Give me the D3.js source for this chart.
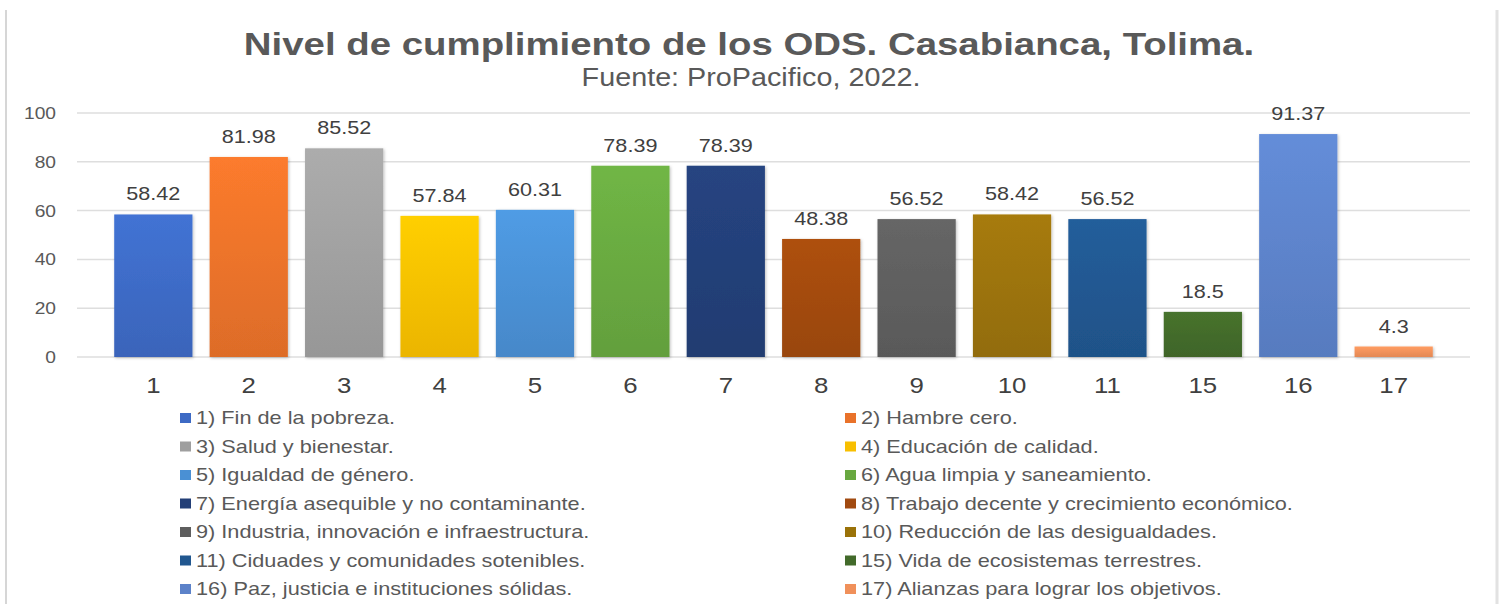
<!DOCTYPE html>
<html>
<head>
<meta charset="utf-8">
<script src="https://cdn.jsdelivr.net/npm/d3@7"></script>
<style>
  body { margin: 0; background: #fff; }
  svg { display: block; font-family: "Liberation Sans", Arial, sans-serif; }
</style>
</head>
<body>
<svg id="chart"></svg>
<script>
const width = 1501;
const height = 604;

const categories = ['1', '2', '3', '4', '5', '6', '7', '8', '9', '10', '11', '15', '16', '17'];
const values = [58.42, 81.98, 85.52, 57.84, 60.31, 78.39, 78.39, 48.38, 56.52, 58.42, 56.52, 18.5, 91.37, 4.3];
const barColors = ['#3d6ac4', '#e9722a', '#9f9f9f', '#f8bf00', '#4a90d4', '#68a840', '#233f77', '#a14a10',
                   '#5e5e5e', '#9a7208', '#21578f', '#426a2a', '#5c82c9', '#f0905a'];
const legendLabels = [
  '1) Fin de la pobreza.', '2) Hambre cero.',
  '3) Salud y bienestar.', '4) Educación de calidad.',
  '5) Igualdad de género.', '6) Agua limpia y saneamiento.',
  '7) Energía asequible y no contaminante.', '8) Trabajo decente y crecimiento económico.',
  '9) Industria, innovación e infraestructura.', '10) Reducción de las desigualdades.',
  '11) Ciduades y comunidades sotenibles.', '15) Vida de ecosistemas terrestres.',
  '16) Paz, justicia e instituciones sólidas.', '17) Alianzas para lograr los objetivos.'
];
const yTicks = [0, 20, 40, 60, 80, 100];

const stretch = 1.2; // picture text looks horizontally widened

const svg = d3.select('#chart').attr('width', width).attr('height', height);

const x = d3.scaleBand().domain(categories).range([77, 1470]).paddingInner(0.18).paddingOuter(0.39);
const y = d3.scaleLinear().domain([0, 100]).range([357, 113]);

function addText(g, tx, ty, str, sx) {
  return g.append('text')
    .attr('transform', `translate(${tx},${ty}) scale(${sx || stretch},1)`)
    .text(str);
}

// frame lines
svg.append('line').attr('x1', 6).attr('x2', 6).attr('y1', 10).attr('y2', height)
  .attr('stroke', '#d6d6d6').attr('stroke-width', 2);
svg.append('line').attr('x1', 1497).attr('x2', 1497).attr('y1', 10).attr('y2', height)
  .attr('stroke', '#e2e2e2').attr('stroke-width', 3);

// gradients + shadow
const defs = svg.append('defs');
barColors.forEach((c, i) => {
  const gr = defs.append('linearGradient').attr('id', 'g' + i)
    .attr('x1', 0).attr('y1', 0).attr('x2', 0).attr('y2', 1);
  gr.append('stop').attr('offset', '0%').attr('stop-color', d3.color(c).brighter(0.22));
  gr.append('stop').attr('offset', '100%').attr('stop-color', d3.color(c).darker(0.15));
});
const f = defs.append('filter').attr('id', 'shadow').attr('x', '-10%').attr('y', '-10%').attr('width', '130%').attr('height', '130%');
f.append('feDropShadow').attr('dx', 1).attr('dy', 1).attr('stdDeviation', 1.5)
  .attr('flood-color', '#000').attr('flood-opacity', 0.25);

// title
const titles = svg.append('g').attr('text-anchor', 'middle').attr('fill', '#595959');
addText(titles, 749, 55, 'Nivel de cumplimiento de los ODS. Casabianca, Tolima.')
  .attr('font-size', 32).attr('font-weight', 'bold');
addText(titles, 751, 86, 'Fuente: ProPacifico, 2022.', 1.15).attr('font-size', 25);

// grid
svg.append('g').selectAll('line').data(yTicks).enter().append('line')
  .attr('x1', 77).attr('x2', 1470)
  .attr('y1', d => y(d)).attr('y2', d => y(d))
  .attr('stroke', '#dedede').attr('stroke-width', 1.5);

// y axis labels
const yAxis = svg.append('g').attr('text-anchor', 'end').attr('fill', '#595959').attr('font-size', 16);
yTicks.forEach(t => addText(yAxis, 56, y(t) + 6, t));

// bars
const data = categories.map((c, i) => ({ cat: c, value: values[i], i: i }));
svg.append('g').selectAll('rect').data(data).enter().append('rect')
  .attr('x', d => x(d.cat))
  .attr('width', x.bandwidth())
  .attr('y', d => y(d.value))
  .attr('height', d => y(0) - y(d.value))
  .attr('fill', d => `url(#g${d.i})`)
  .attr('filter', 'url(#shadow)');

// value labels
const vl = svg.append('g').attr('text-anchor', 'middle').attr('fill', '#404040').attr('font-size', 18);
data.forEach(d => addText(vl, x(d.cat) + x.bandwidth() / 2, y(d.value) - 14, d.value));

// x labels
const xl = svg.append('g').attr('text-anchor', 'middle').attr('fill', '#404040').attr('font-size', 21.5);
categories.forEach(c => addText(xl, x(c) + x.bandwidth() / 2, 393, c));

// legend
const legend = svg.append('g').attr('fill', '#595959').attr('font-size', 17.8);
legendLabels.forEach((lab, i) => {
  const col = i % 2, row = Math.floor(i / 2);
  const lx = col === 0 ? 180 : 845;
  const ly = 418 + row * 28.5;
  legend.append('rect').attr('x', lx).attr('y', ly - 5).attr('width', 11).attr('height', 10)
    .attr('fill', barColors[i]);
  addText(legend, lx + 16, ly + 6, lab, 1.22);
});
</script>
</body>
</html>
